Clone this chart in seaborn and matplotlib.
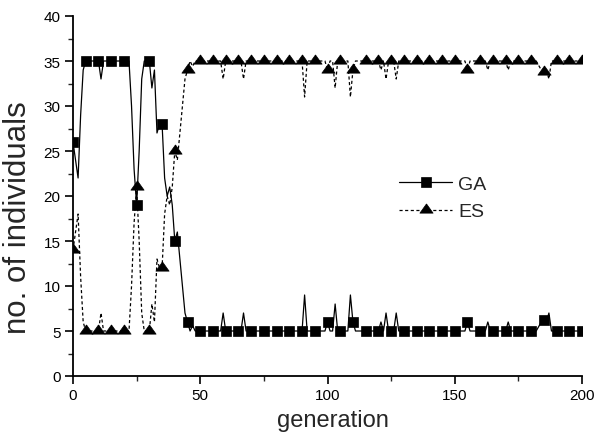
import numpy as np
import pandas as pd
import matplotlib
matplotlib.use("Agg")
import matplotlib.pyplot as plt
import seaborn as sns

generation = list(range(0, 201))

ga = [
    26, 24, 22, 29, 34, 35, 35, 35, 35, 35,
    35, 33, 35, 35, 35, 35, 35, 35, 35, 35,
    35, 35, 35, 30, 23, 19, 25, 33, 35, 35,
    35, 32, 34, 27, 28, 28, 22, 20, 21, 19,
    15, 16, 13, 10, 7, 6, 5, 5.6, 5, 5,
    5, 5, 5, 5, 5, 5, 5, 5, 5, 7,
    5, 5, 5, 5, 5, 5, 5, 7, 5, 5,
    5, 5, 5, 5, 5, 5, 5, 5, 5, 5,
    5, 5, 5, 5, 5, 5, 5, 5, 5, 5,
    5, 9, 5, 5, 5, 5, 5, 5, 5, 5,
    6, 5, 5, 8, 5, 5, 5, 5, 5, 9,
    6, 5, 5, 5, 5, 5, 5, 5, 5, 5,
    5, 6, 5, 7, 5, 5, 5, 7, 5, 5,
    5, 5, 5, 5, 5, 5, 5, 5, 5, 5,
    5, 5, 5, 5, 5, 5, 5, 5, 5, 5,
    5, 5, 5, 5, 5, 6, 5, 5, 5, 5,
    5, 5, 5, 6, 5, 5, 5, 5, 5, 5,
    5, 6, 5, 5, 5, 5, 5, 5, 5, 5,
    5, 5, 5, 5.5, 6, 6.2, 6, 7, 5, 5,
    5, 5, 5, 5, 5, 5, 5, 5, 5, 5,
    5,
]

es = [
    14, 16, 18, 11, 6, 5, 5, 5, 5, 5,
    5, 7, 5, 5, 5, 5, 5, 5, 5, 5,
    5, 5, 5, 10, 17, 21, 15, 7, 5, 5,
    5, 8, 6, 13, 12, 12, 18, 20, 19, 21,
    25, 24, 27, 30, 33, 34, 35, 34.4, 35, 35,
    35, 35, 35, 35, 35, 35, 35, 35, 35, 33,
    35, 35, 35, 35, 35, 35, 35, 33, 35, 35,
    35, 35, 35, 35, 35, 35, 35, 35, 35, 35,
    35, 35, 35, 35, 35, 35, 35, 35, 35, 35,
    35, 31, 35, 35, 35, 35, 35, 35, 35, 35,
    34, 35, 35, 32, 35, 35, 35, 35, 35, 31,
    34, 35, 35, 35, 35, 35, 35, 35, 35, 35,
    35, 34, 35, 33, 35, 35, 35, 33, 35, 35,
    35, 35, 35, 35, 35, 35, 35, 35, 35, 35,
    35, 35, 35, 35, 35, 35, 35, 35, 35, 35,
    35, 35, 35, 35, 35, 34, 35, 35, 35, 35,
    35, 35, 35, 34, 35, 35, 35, 35, 35, 35,
    35, 34, 35, 35, 35, 35, 35, 35, 35, 35,
    35, 35, 35, 34.5, 34, 33.8, 34, 33, 35, 35,
    35, 35, 35, 35, 35, 35, 35, 35, 35, 35,
    35,
]

series_names = ["GA", "ES"]
x_ticks = [0, 50, 100, 150, 200]
y_ticks = [0, 5, 10, 15, 20, 25, 30, 35, 40]

sns.set_theme(style="ticks")
plt.rcParams["font.family"] = ["Liberation Sans", "DejaVu Sans"]

fig = plt.figure(figsize=(6.07, 4.35), dpi=100)
ax = fig.add_axes([73 / 607, 1 - 377 / 435, (582 - 73) / 607, (377 - 17) / 435])

df_ga = pd.DataFrame({"generation": generation, "value": ga})
df_es = pd.DataFrame({"generation": generation, "value": es})

tri = [(0, 1.0), (1, -0.4), (-1, -0.4), (0, 1.0)]

sns.lineplot(data=df_ga, x="generation", y="value", ax=ax, color="black",
             lw=0.9, marker="s", markersize=6.8, markevery=5,
             markeredgecolor="black", markerfacecolor="black",
             markeredgewidth=0.5, label=series_names[0])
sns.lineplot(data=df_es, x="generation", y="value", ax=ax, color="black",
             lw=0.9, linestyle=(0, (2.5, 2)), marker=tri, markersize=9.5,
             markevery=5, markeredgecolor="black", markerfacecolor="black",
             markeredgewidth=0.5, label=series_names[1])

ax.set_xlim(0, 200)
ax.set_ylim(0, 40)
ax.set_xticks(x_ticks)
ax.set_yticks(y_ticks)
ax.set_xticks([25, 75, 125, 175], minor=True)
ax.set_yticks(np.arange(2.5, 40, 5), minor=True)
ax.tick_params(which="major", direction="out", length=6, width=1.2,
               labelsize=11, colors="black", pad=3)
ax.tick_params(which="minor", direction="out", length=3.5, width=1.0)
for side in ["top", "right"]:
    ax.spines[side].set_visible(False)
for side in ["left", "bottom"]:
    ax.spines[side].set_linewidth(1.3)
    ax.spines[side].set_color("black")

ax.set_xlabel("generation", fontsize=17)
ax.set_ylabel("no. of individuals", fontsize=22.5)
ax.xaxis.set_label_coords((333 - 73) / 509, -0.092)
ax.yaxis.set_label_coords(-0.078, (377 - 218) / 360)

leg = ax.legend(loc="upper left", bbox_to_anchor=(0.6405, 0.557), frameon=False,
                fontsize=14, handlelength=2.73, handletextpad=0.31,
                labelspacing=0.5, borderpad=0, borderaxespad=0)

fig.savefig("out.png", dpi=100)
